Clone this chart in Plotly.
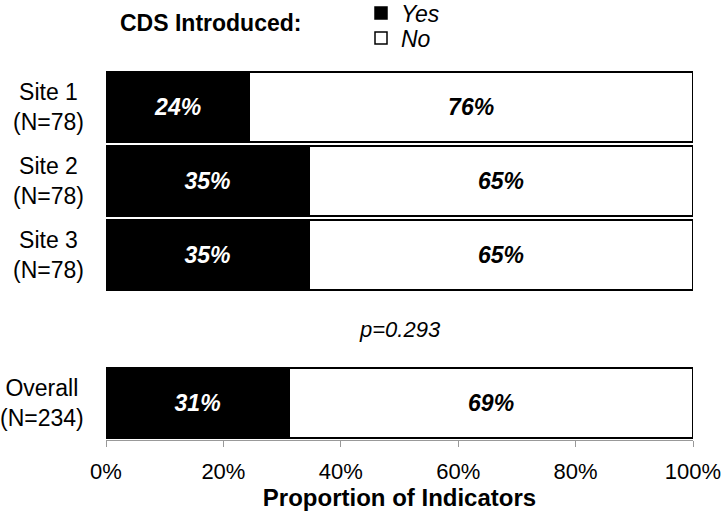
import plotly.graph_objects as go

# Data
groups = ["Site 1<br>(N=78)", "Site 2<br>(N=78)", "Site 3<br>(N=78)", "Overall<br>(N=234)"]
group_pos = [0, 1, 2, 4]
yes_vals = [24.4, 34.6, 34.6, 31.2]
no_vals = [75.6, 65.4, 65.4, 68.8]
yes_labels = ["24%", "35%", "35%", "31%"]
no_labels = ["76%", "65%", "65%", "69%"]
p_text = "p=0.293"
x_ticks = [0, 20, 40, 60, 80, 100]
x_tick_text = ["0%", "20%", "40%", "60%", "80%", "100%"]

FONT = "Liberation Sans, Arial, sans-serif"

fig = go.Figure()
fig.add_trace(go.Bar(
    y=group_pos, x=yes_vals, orientation="h", name="Yes", legend="legend",
    marker=dict(color="black", line=dict(color="black", width=1.5)),
    text=[f"<b><i>{t}</i></b>" for t in yes_labels],
    textposition="inside", insidetextanchor="middle",
    textfont=dict(color="white", size=23, family=FONT),
    width=0.95, hoverinfo="skip",
))
fig.add_trace(go.Bar(
    y=group_pos, x=no_vals, orientation="h", name="No", legend="legend2",
    marker=dict(color="white", line=dict(color="black", width=1.5)),
    text=[f"<b><i>{t}</i></b>" for t in no_labels],
    textposition="inside", insidetextanchor="middle",
    textfont=dict(color="black", size=23, family=FONT),
    width=0.95, hoverinfo="skip",
))

# Category labels (centered lines, right-anchored)
for g, p in zip(groups, group_pos):
    fig.add_annotation(x=-0.034, xref="paper", y=p, yref="y", text=g,
                       showarrow=False, xanchor="right", yanchor="middle", align="center",
                       font=dict(size=23, color="black", family=FONT))

# p-value
fig.add_annotation(x=50, y=3, xref="x", yref="y", text=f"<i>{p_text}</i>",
                   showarrow=False, xanchor="center", yanchor="middle",
                   font=dict(size=22, color="black", family=FONT))

# Legend title
fig.add_annotation(x=(210 - 106) / 587, xref="paper", y=(440 - 23) / 370, yref="paper",
                   text="<b>CDS Introduced:</b>", showarrow=False,
                   xanchor="center", yanchor="middle",
                   font=dict(size=23, color="black", family=FONT))

leg_common = dict(xanchor="left", yanchor="middle",
                  font=dict(size=23, style="italic", family=FONT, color="black"),
                  bgcolor="rgba(0,0,0,0)", itemwidth=30)

fig.update_layout(
    width=723, height=513,
    margin=dict(l=106, r=30, t=70, b=73, autoexpand=False),
    barmode="stack",
    bargap=0.05,
    plot_bgcolor="white", paper_bgcolor="white",
    font=dict(family=FONT, color="black", size=22),
    showlegend=True,
    legend=dict(x=(361 - 106) / 587, y=(440 - 13) / 370, **leg_common),
    legend2=dict(x=(361 - 106) / 587, y=(440 - 38) / 370, **leg_common),
    xaxis=dict(range=[0, 100], tickvals=x_ticks, ticktext=x_tick_text,
               showgrid=False, zeroline=False, showline=True, linecolor="#999999",
               linewidth=1, ticks="outside", tickcolor="#999999", ticklen=6,
               ticklabelstandoff=6,
               tickfont=dict(size=22, family=FONT),
               title=dict(text="<b>Proportion of Indicators</b>", font=dict(size=24, family=FONT),
                          standoff=5)),
    yaxis=dict(range=[4.5, -0.5], showticklabels=False, showgrid=False,
               zeroline=False, showline=False, ticks=""),
)

fig.write_html("out.html",
               config={"displayModeBar": False},
               post_script="document.body.style.margin='0';document.body.style.overflow='hidden';")
